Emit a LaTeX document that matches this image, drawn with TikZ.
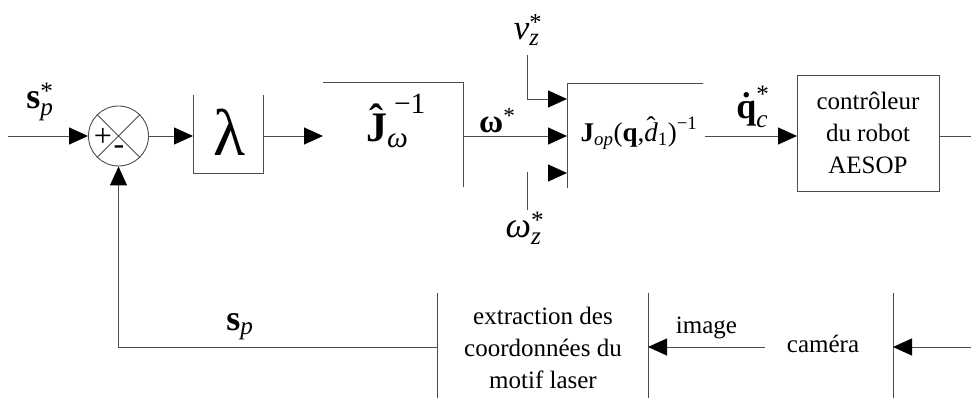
\documentclass[tikz,border=0pt]{standalone}
\usepackage[no-math]{fontspec}
\setmainfont{Liberation Serif}
\usepackage{amsmath}
\usetikzlibrary{arrows.meta}
\newcommand\accover[4]{{\setbox0\hbox{#4}\hbox to \wd0{\hss\raisebox{#1}{#2#3}\hss}\kern-\wd0\box0}}
\tikzset{
  wire/.style={draw=black!70, line width=0.9pt},
  arr/.style={wire, -{Triangle[length=19pt,width=17pt,color=black]}},
  lbl/.style={inner sep=0pt, font=\fontsize{25}{32}\selectfont},
  blk/.style={lbl, align=center},
}
\begin{document}
\begin{tikzpicture}[x=1pt,y=-1pt]
\useasboundingbox (0,0) rectangle (971,398);
% ---------- main row ----------
\coordinate (in) at (8,136);
\node[circle, wire, minimum size=60pt, inner sep=0pt] (sum) at (118.5,136) {};
\draw[wire] (sum.north west) -- (sum.south east);
\draw[wire] (sum.north east) -- (sum.south west);
\node[lbl, font=\fontsize{32}{36}\selectfont] (plus) at (103,137) {+};
\node[lbl, font=\fontsize{32}{36}\selectfont] (minus) at (119,150) {-};
\node[lbl, font=\fontsize{36}{40}\selectfont] (spstar) at (40,102) {$\textbf{s}^{\text{*}}_{\textit{p}}$};
\draw[arr] (in) -- (sum.west);

% lambda block (open top)
\coordinate (lamL) at (193,136);
\coordinate (lamR) at (263,136);
\draw[wire] (193,95) -- (193,173) -- (263,173) -- (263,95);
\node[lbl, font=\fontsize{66}{70}\selectfont] (lam) at (229,132) {λ};
\draw[arr] (sum.east) -- (lamL);

% J omega block (top and right sides)
\coordinate (JwL) at (323,136);
\coordinate (JwR) at (463,136);
\draw[wire] (323,82) -- (463,82) -- (463,187);
\node[lbl, font=\fontsize{42}{46}\selectfont] (Jw) at (396,121) {$\text{\accover{0.2em}{\bfseries}{ˆ}{\bfseries J}}_{\textit{ω}}^{\;\text{−1}}$};
\draw[arr] (lamR) -- (JwL);

% J op block (left and top sides)
\coordinate (Jop1) at (567,99);
\coordinate (Jop2) at (567,136);
\coordinate (Jop3) at (567,173);
\coordinate (JopR) at (705,136);
\draw[wire] (567,188) -- (567,83) -- (703,83);
\node[lbl, font=\fontsize{27}{32}\selectfont] (Jop) at (639,133) {$\textbf{J}_{\textit{op}}\text{(}\textbf{q}\text{,}\text{\accover{0.22em}{}{ˆ}{\itshape d}}_{\text{1}}\text{)}^{\text{−1}}$};
\draw[arr] (JwR) -- node[lbl, font=\fontsize{33}{36}\selectfont, above=3pt, pos=0.33] (wstar) {$\textbf{ω}^{\text{*}}$} (Jop2);

% v_z input
\coordinate (vz0) at (527,55);
\node[lbl, font=\fontsize{35}{38}\selectfont] (vz) at (528,30) {$\textit{v}^{\text{*}}_{\textit{z}}$};
\draw[arr] (vz0) |- (Jop1);

% omega_z input
\coordinate (wz0) at (527,172);
\coordinate (wz1) at (527,210);
\coordinate (Jop3s) at (548,173);
\draw[wire] (wz0) -- (wz1);
\draw[arr] (Jop3s) -- (Jop3);
\node[lbl, font=\fontsize{36}{40}\selectfont] (wz) at (525,228) {$\textit{ω}^{\text{*}}_{\textit{z}}$};

% controller block
\node[wire, blk, minimum width=142pt, minimum height=116pt] (ctrl) at (868,133) {contrôleur\\du robot\\AESOP};
\coordinate (ctrlIn) at (797,136);
\coordinate (ctrlOut) at (939,136);
\coordinate (out) at (971,136);
\draw[arr] (JopR) -- node[lbl, font=\fontsize{36}{40}\selectfont, above=8pt, pos=0.52] (qd) {$\text{\accover{0.02em}{\bfseries}{˙}{\bfseries q}}^{\text{*}}_{\textit{c}}$} (ctrlIn);
\draw[wire] (ctrlOut) -- (out);

% ---------- bottom row ----------
\draw[wire] (437,293) -- (437,398);
\draw[wire] (648,293) -- (648,398);
\node[blk] (ext) at (543,348) {extraction des\\coordonnées du\\motif laser};
\coordinate (extL) at (437,347);
\coordinate (extR) at (648,347);

\draw[wire] (893,293) -- (893,398);
\node[lbl] (cam) at (823,344) {caméra};
\coordinate (camL) at (765,347);
\coordinate (camR) at (893,347);
\coordinate (rin) at (971,347);

\draw[arr] (camL) -- node[lbl, above=8pt] (img) {image} (extR);
\draw[arr] (rin) -- (camR);

% feedback
\coordinate (fb) at (118.5,347);
\draw[arr] (extL) -- (fb) -- (sum.south);
\node[lbl, font=\fontsize{36}{40}\selectfont] (sp) at (240,327) {$\textbf{s}_{\textit{p}}$};
\end{tikzpicture}
\end{document}
